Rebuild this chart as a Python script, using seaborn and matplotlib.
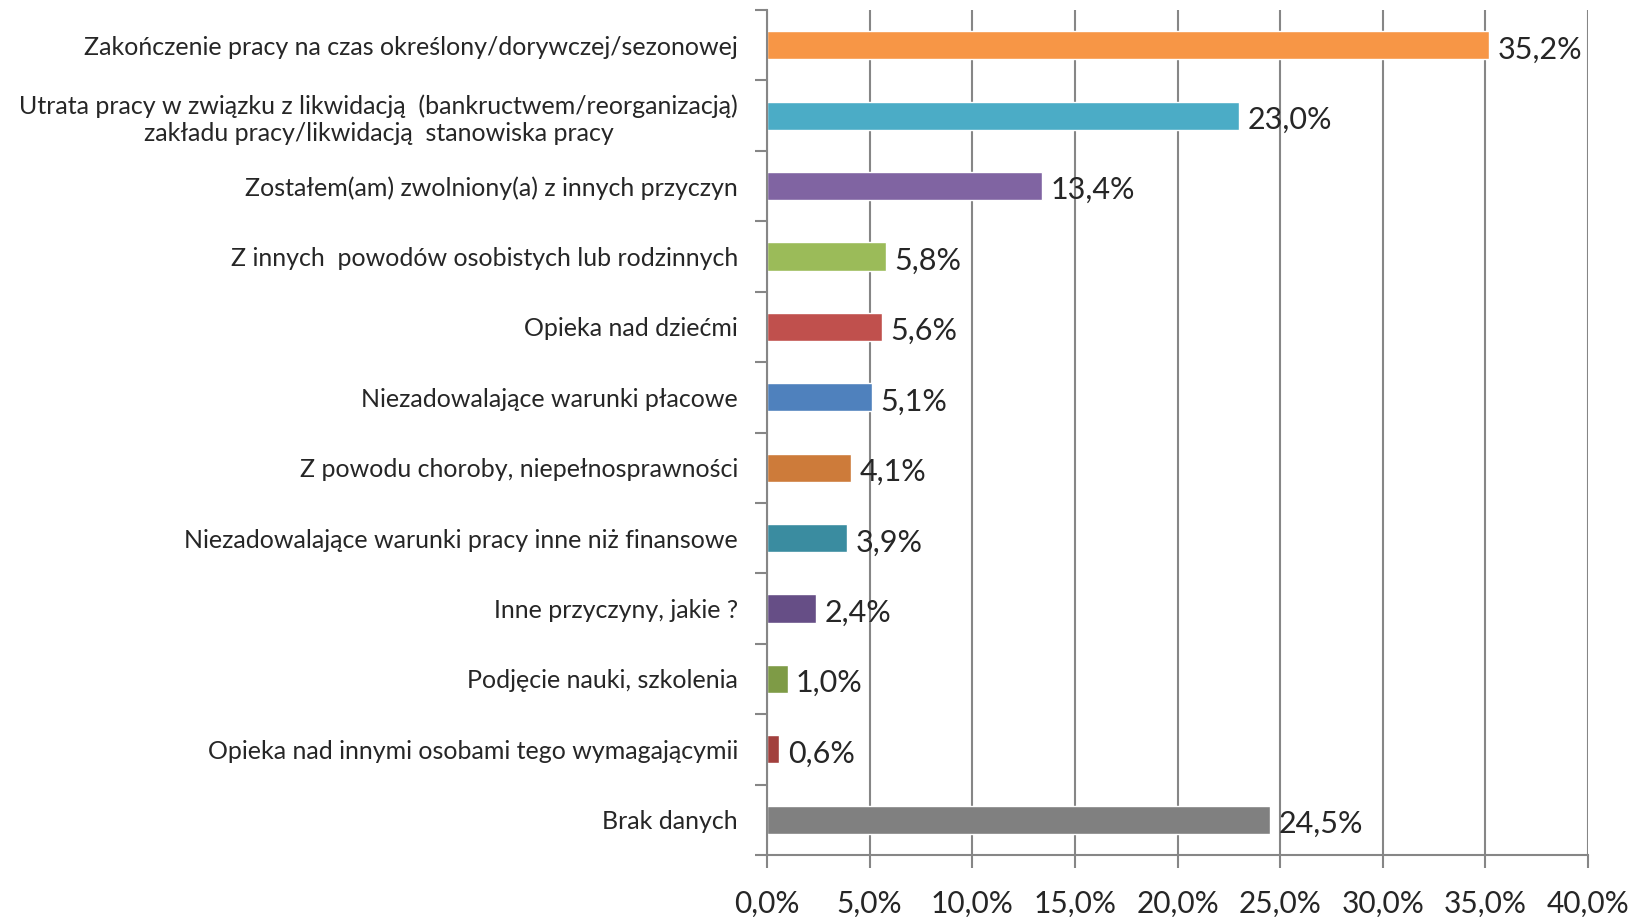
import matplotlib
matplotlib.use("Agg")
import matplotlib.pyplot as plt
import seaborn as sns
import pandas as pd
import numpy as np

# Dane z wykresu
kategorie = [
    "Zakończenie pracy na czas określony/dorywczej/sezonowej",
    "Utrata pracy w związku z likwidacją  (bankructwem/reorganizacją)\nzakładu pracy/likwidacją  stanowiska pracy",
    "Zostałem(am) zwolniony(a) z innych przyczyn",
    "Z innych  powodów osobistych lub rodzinnych",
    "Opieka nad dziećmi",
    "Niezadowalające warunki płacowe",
    "Z powodu choroby, niepełnosprawności",
    "Niezadowalające warunki pracy inne niż finansowe",
    "Inne przyczyny, jakie ?",
    "Podjęcie nauki, szkolenia",
    "Opieka nad innymi osobami tego wymagającymii",
    "Brak danych",
]
wartosci = [35.2, 23.0, 13.4, 5.8, 5.6, 5.1, 4.1, 3.9, 2.4, 1.0, 0.6, 24.5]
kolory = ["#F79646", "#4BACC6", "#8064A2", "#9BBB59", "#C0504D", "#4F81BD",
          "#CD7B3A", "#3A8CA0", "#664E86", "#7E9B46", "#A2403D", "#808080"]
ticki_x = [0, 5, 10, 15, 20, 25, 30, 35, 40]

df = pd.DataFrame({"kategoria": kategorie, "wartosc": wartosci})

sns.set_style("white")
plt.rcParams["font.family"] = ["Lato", "DejaVu Sans"]

fig = plt.figure(figsize=(16.31, 9.17), dpi=100)
ax = fig.add_axes([767 / 1631, 1 - 855 / 917, (1588 - 767) / 1631, (855 - 10) / 917])

sns.barplot(data=df, y="kategoria", x="wartosc", hue="kategoria", palette=kolory,
            orient="h", width=0.4, legend=False, ax=ax, saturation=1)

ax.set_xlim(0, 40)
ax.set_ylim(len(kategorie) - 0.5, -0.5)
ax.set_xticks(ticki_x)
ax.set_xticklabels([f"{t:.1f}%".replace(".", ",") for t in ticki_x], fontsize=21.5)
ax.set_xlabel("")
ax.set_ylabel("")

ax.set_yticks(range(len(kategorie)))
ax.set_yticklabels(kategorie, fontsize=18, multialignment="center")
ax.set_yticks(np.arange(-0.5, len(kategorie), 1), minor=True)
ax.tick_params(axis="y", which="major", length=0, pad=21)
ax.tick_params(axis="y", which="minor", length=9, width=1.5, color="#868686", left=True)
ax.tick_params(axis="x", which="major", length=9, width=1.5, color="#868686", pad=16, bottom=True)

ax.grid(axis="x", color="#868686", linewidth=1.5)
ax.set_axisbelow(True)
for s in ["top", "right"]:
    ax.spines[s].set_visible(False)
for s in ["left", "bottom"]:
    ax.spines[s].set_color("#868686")
    ax.spines[s].set_linewidth(1.5)

etykiety = [f"{v:.1f}%".replace(".", ",") for v in wartosci]
for kontener in ax.containers:
    for bar in kontener:
        i = int(round(bar.get_y() + bar.get_height() / 2))
        ax.annotate(etykiety[i], (bar.get_width(), i), xytext=(6, -3),
                    textcoords="offset points", va="center", ha="left", fontsize=22)

fig.savefig("out.png", dpi=100)
